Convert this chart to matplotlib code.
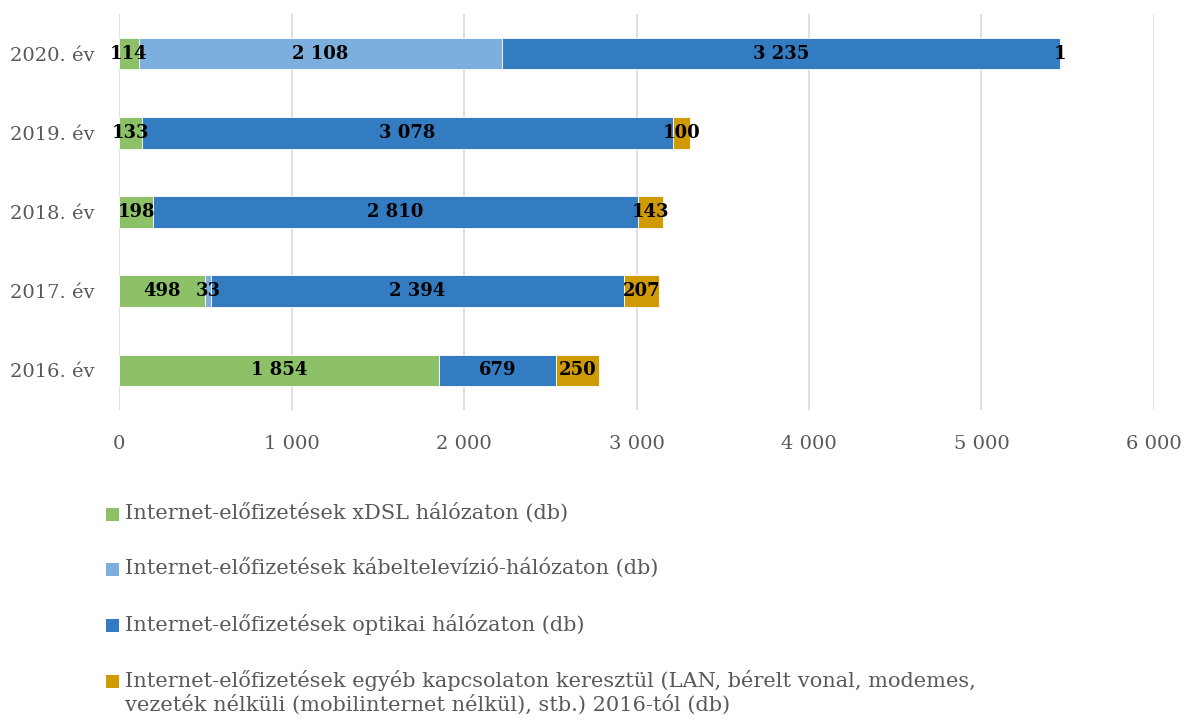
import matplotlib.pyplot as plt
from matplotlib.patches import Rectangle

years = ["2016. év", "2017. év", "2018. év", "2019. év", "2020. év"]
xdsl = [1854, 498, 198, 133, 114]
cable = [0, 33, 0, 0, 2108]
optical = [679, 2394, 2810, 3078, 3235]
other = [250, 207, 143, 100, 1]

series_names = [
    "Internet-előfizetések xDSL hálózaton (db)",
    "Internet-előfizetések kábeltelevízió-hálózaton (db)",
    "Internet-előfizetések optikai hálózaton (db)",
    "Internet-előfizetések egyéb kapcsolaton keresztül (LAN, bérelt vonal, modemes,\n"
    "vezeték nélküli (mobilinternet nélkül), stb.) 2016-tól (db)",
]
colors = ["#8CC168", "#7CAFDD", "#337CC1", "#D09A05"]


def fmt(v):
    # hungarian style thousands separator
    return f"{v:,}".replace(",", " ") if v else ""


plt.rcParams["font.family"] = ["DejaVu Serif"]

W, H = 1184, 719
fig = plt.figure(figsize=(W / 100, H / 100), dpi=100)
ax = fig.add_axes([119 / W, 1 - 410 / H, (1154 - 119) / W, 396 / H])

left = [0] * len(years)
for vals, col in zip([xdsl, cable, optical, other], colors):
    bars = ax.barh(years, vals, left=left, height=0.4, color=col,
                   edgecolor="white", linewidth=0.6, zorder=3)
    ax.bar_label(bars, labels=[fmt(v) for v in vals], label_type="center",
                 fontsize=13, fontweight="bold", color="black", zorder=4)
    left = [a + b for a, b in zip(left, vals)]

ax.set_xlim(0, 6000)
ax.set_ylim(-0.5, 4.5)
ax.set_xticks(range(0, 6001, 1000))
ax.set_xticklabels([fmt(t) if t else "0" for t in range(0, 6001, 1000)])
ax.grid(axis="x", color="#D9D9D9", linewidth=1.2, zorder=0)
for s in ax.spines.values():
    s.set_visible(False)
ax.tick_params(axis="both", length=0, labelsize=14, labelcolor="#595959")
ax.tick_params(axis="x", pad=18)
ax.tick_params(axis="y", pad=17.5)

# legend drawn by hand so the marker sits on the first line of a 2-line label
row_y = [515, 570, 626, 682]
for name, col, y in zip(series_names, colors, row_y):
    fig.patches.append(Rectangle((106 / W, 1 - (y + 6) / H), 13 / W, 13 / H,
                                 facecolor=col, edgecolor="none",
                                 transform=fig.transFigure))
    fig.text(125 / W, 1 - (y - 12) / H, name, fontsize=15, color="#595959",
             va="top", ha="left", linespacing=1.22)

fig.savefig("out.png", dpi=100)
